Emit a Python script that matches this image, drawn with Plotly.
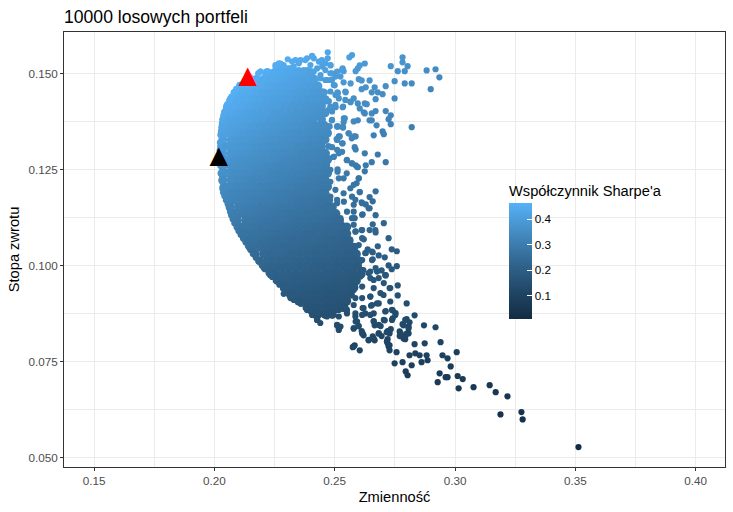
import plotly.graph_objects as go

TITLE = "10000 losowych portfeli"
X_TITLE = "Zmienność"
Y_TITLE = "Stopa zwrotu"
CB_TITLE = "Współczynnik Sharpe'a"
RISK_FREE = 0.05  # the colour is the chart's own Sharpe ratio: (return - RISK_FREE) / volatility

x_ticks = [0.15, 0.20, 0.25, 0.30, 0.35, 0.40]
y_ticks = [0.050, 0.075, 0.100, 0.125, 0.150]
cb_ticks = [0.1, 0.2, 0.3, 0.4]

# Optimal portfolios: (minimum variance, maximum Sharpe)
best_vol = [201.8, 213.9]
best_ret = [128.2, 149.2]
best_colors = ["black", "red"]

# Dense body of the cloud, row by row: return level and the volatilities read on that level
body_ret = [150.25, 148.5, 146.75, 145, 143.25, 141.5, 139.75, 138, 136.25, 134.5, 132.75, 131, 129.25, 127.5,
            125.75, 124, 122.25, 120.5, 118.75, 117, 115.25, 113.5, 111.75, 110, 108.25, 106.5, 104.75, 103,
            101.25, 99.5, 97.75, 96, 94.25, 92.5, 90.75, 89, 87.25]
body_vol = [
    [222, 225, 228, 231, 234, 237, 240],
    [214.5, 217.5, 220.5, 223.5, 226.5, 229.5, 232.5, 235.5, 238.5, 241.5],
    [211, 213, 216, 219, 222, 225, 228, 231, 234, 237, 240, 243],
    [208.7, 211.5, 214.5, 217.5, 220.5, 223.5, 226.5, 229.5, 232.5, 235.5, 238.5, 241.5, 244.5],
    [207, 210, 213, 216, 219, 222, 225, 228, 231, 234, 237, 240, 243, 246],
    [205.5, 208.5, 211.5, 214.5, 217.5, 220.5, 223.5, 226.5, 229.5, 232.5, 235.5, 238.5, 241.5, 244.5],
    [204.7, 207, 210, 213, 216, 219, 222, 225, 228, 231, 234, 237, 240, 243, 246],
    [204, 205.5, 208.5, 211.5, 214.5, 217.5, 220.5, 223.5, 226.5, 229.5, 232.5, 235.5, 238.5, 241, 244.5],
    [204, 207, 210, 213, 216, 219, 222, 225, 228, 231, 234, 237, 240, 241.5, 243, 246],
    [203.3, 205.5, 208.5, 211.5, 214.5, 217.5, 220.5, 223.5, 226.5, 229.5, 232.5, 235.5, 238.5, 241.5, 244.5, 247],
    [203.5, 207, 210, 213, 216, 219, 222, 225, 228, 231, 234, 237, 240, 242, 243, 246],
    [203, 205.5, 208.5, 211.5, 214.5, 217.5, 220.5, 223.5, 226.5, 229.5, 232.5, 235.5, 238.5, 241, 244.5],
    [203.5, 207, 210, 213, 216, 219, 222, 225, 228, 231, 234, 237, 240, 241.5, 243, 246],
    [203, 205.5, 208.5, 211.5, 214.5, 217.5, 220.5, 223.5, 226.5, 229.5, 232.5, 235.5, 238.5, 241.5, 244.5, 247],
    [203.5, 207, 210, 213, 216, 219, 222, 225, 228, 231, 234, 237, 240, 243, 246],
    [203.2, 205.5, 208.5, 211.5, 214.5, 217.5, 220.5, 223.5, 226.5, 229.5, 232.5, 235.5, 238.5, 241.5, 243, 244.5, 247],
    [203.5, 207, 210, 213, 216, 219, 222, 225, 228, 231, 234, 237, 240, 243, 244, 246],
    [204, 205.5, 208.5, 211.5, 214.5, 217.5, 220.5, 223.5, 226.5, 229.5, 232.5, 235.5, 238.5, 241.5, 244, 247],
    [204.6, 207, 210, 213, 216, 219, 222, 225, 228, 231, 234, 237, 240, 243, 245, 246],
    [205.7, 208.5, 211.5, 214.5, 217.5, 220.5, 223.5, 226.5, 229.5, 232.5, 235.5, 238.5, 241.5, 244.5, 246, 247.5],
    [206.6, 210, 213, 216, 219, 222, 225, 228, 231, 234, 237, 240, 243, 246, 247, 249],
    [207.5, 208.5, 211.5, 214.5, 217.5, 220.5, 223.5, 226.5, 229.5, 232.5, 235.5, 238.5, 241.5, 244.5, 247.5, 250.5],
    [209.5, 213, 216, 219, 222, 225, 228, 231, 234, 237, 240, 243, 246, 249, 251, 252],
    [210, 211.5, 214.5, 217.5, 220.5, 223.5, 226.5, 229.5, 232.5, 235.5, 238.5, 241.5, 244.5, 247.5, 250.5, 253, 255],
    [211.6, 213, 216, 219, 222, 225, 228, 231, 234, 237, 240, 243, 246, 249, 252, 254, 255],
    [213.4, 214.5, 217.5, 220.5, 223.5, 226.5, 229.5, 232.5, 235.5, 238.5, 241.5, 244.5, 247.5, 250.5, 253.5, 256],
    [215, 216, 219, 222, 225, 228, 231, 234, 237, 240, 243, 246, 249, 252, 255, 258],
    [217, 220.5, 223.5, 226.5, 229.5, 232.5, 235.5, 238.5, 241.5, 244.5, 247.5, 250.5, 253.5, 255, 256.5, 259],
    [218.8, 222, 225, 228, 231, 234, 237, 240, 243, 246, 249, 252, 255, 258, 260],
    [221, 223.5, 226.5, 229.5, 232.5, 235.5, 238.5, 241.5, 244.5, 247.5, 250.5, 253.5, 255, 256.5, 259.5],
    [223.5, 225, 228, 231, 234, 237, 240, 243, 246, 249, 252, 255, 258, 261],
    [226.5, 229.5, 232.5, 235.5, 238.5, 241.5, 244.5, 247.5, 250.5, 253.5, 256.5, 259],
    [229, 231, 234, 237, 240, 243, 246, 249, 252, 255, 258],
    [231.5, 232.5, 235.5, 238.5, 241.5, 244.5, 247.5, 250.5, 253.5, 256.5],
    [235, 237, 240, 243, 246, 249, 252, 255],
    [238.5, 241.5, 244.5, 247.5, 250.5, 253.5],
    [243, 246, 249],
]

# Left edge of the cloud (the efficient frontier)
edge_ret = [150, 149, 148, 147, 146, 145, 144, 143, 142, 141, 140, 139, 138, 137, 136, 135, 134, 132, 130, 128, 126,
            124, 122, 120, 119, 118, 117, 116, 115, 114, 113, 112, 111, 110, 109, 108, 107, 106, 105, 104, 103, 102,
            101, 100, 99, 98, 97, 96, 95, 94, 93, 92, 91, 90, 89, 88, 87, 86, 85]
edge_vol = [218.2, 214.9, 212.5, 210.4, 209.1, 208.0, 207.1, 206.2, 205.4, 204.8, 204.1, 203.7, 203.3, 203.1, 202.9,
            202.7, 202.5, 202.3, 202.2, 202.2, 202.4, 202.7, 203.0, 203.3, 203.6, 204.2, 204.8, 205.5, 206.0, 206.5,
            207.0, 207.6, 208.3, 209.2, 210.0, 210.9, 211.9, 213.0, 214.0, 215.0, 216.0, 217.2, 218.4, 219.7, 221.0,
            222.5, 224.0, 225.5, 227.0, 228.6, 230.0, 231.6, 233.8, 236.0, 238.2, 240.0, 241.5, 242.7, 244.0]

# Individually visible portfolios around the body
outer_vol = [
    247.1, 247.1, 244.7, 257.2, 256.1, 278.2, 278.2, 280.3, 273.3, 276.2, 279.1, 288.2, 291.9, 293.5, 289.9, 282.0,
    262.5, 260.4, 259.6, 258.7, 248.3, 253.3, 253.7, 274.9, 279.1, 282.0, 271.2, 264.5, 260.0, 261.2, 256.6, 253.7,
    250.0, 262.9, 261.2, 266.6, 265.4, 267.9, 269.9, 274.9, 267.0, 257.9, 254.6, 251.2, 245.9, 247.5, 256.6, 259.6,
    262.5, 263.3, 260.4, 253.3, 250.4, 248.8, 245.4, 271.2, 267.0, 265.4, 262.1, 262.5, 273.3, 272.4, 273.3, 267.4,
    265.4, 264.5, 259.6, 257.9, 254.2, 253.7, 248.8, 251.2, 253.3, 269.9, 270.4, 266.2, 255.8, 258.7, 257.1, 252.1,
    250.8, 253.3, 258.3, 258.7, 262.5, 267.9, 265.4, 271.2, 262.9, 255.0, 257.1, 258.7, 259.6, 262.5, 260.0, 255.0,
    251.2, 246.7, 251.7, 249.6, 247.9, 246.7, 247.5, 248.9, 243.0, 245.4, 247.9, 246.1, 245.4,
    241.3, 240.6, 238.5, 235.8, 233.7, 230.5, 227.5, 225.4, 223.3, 221.2, 219.1, 242.7, 244.1, 246.1, 248.9, 251.0,
    252.4, 246.8, 248.9, 244.1, 240.6, 237.1, 233.0, 230.2, 226.8, 250.3, 251.7, 250.3, 247.5,
    267.0, 260.4, 264.5, 265.8, 257.9, 259.1, 261.2, 262.9, 264.5, 267.0, 261.6, 258.3, 270.4, 265.8, 264.5, 267.0,
    261.2, 258.7, 262.1, 272.4, 267.9, 273.7, 275.8, 265.8, 263.7, 262.9, 268.3, 270.8, 265.8, 272.4, 273.7, 275.8,
    271.2, 267.0, 269.5, 276.2, 272.8, 276.2, 279.9, 283.2, 279.9, 274.1, 271.2, 275.3, 274.1, 270.8, 269.1, 266.2,
    266.6, 287.1, 291.9, 281.1, 278.6, 273.3, 271.6, 277.4, 280.7, 278.6, 268.3, 265.8, 261.6, 260.0, 257.9, 258.7,
    251.0, 252.4, 251.7, 261.9, 264.1, 259.3, 256.5, 266.2, 269.0, 270.3, 264.8, 267.6, 265.1, 261.6, 266.2, 262.7,
    258.6, 255.1, 251.7, 248.2, 246.8, 242.7, 242.0, 238.5, 235.8, 231.6, 228.8,
    278.2, 280.7, 272.0, 272.8, 269.5, 264.1, 266.6, 261.2, 262.0, 259.8, 277.0, 277.0, 280.0, 279.3, 272.0, 272.0,
    272.8, 272.8, 283.2, 287.4, 294.0, 258.3, 257.5, 260.4, 275.7, 281.1, 283.5, 285.3, 288.2, 288.6, 294.8, 296.9,
    300.7, 298.2, 286.1, 282.0, 278.2, 274.9, 279.5, 280.3, 293.6, 292.8, 296.1, 296.9, 301.1, 303.2, 301.5, 307.7,
    314.4, 316.9, 321.8, 318.9, 327.6, 328.1, 351.3,
    # transition band, upper part
    226.8, 228.8, 232.3, 235.1, 237.8, 240.6, 239.9, 243.4, 244.8, 246.1, 248.2, 241.3, 238.5, 235.1, 231.6, 228.1,
    225.4, 221.9, 219.2, 244.1, 248.2, 250.3, 246.1, 241.3, 237.1, 233.0, 228.8, 224.7, 248.2, 249.6, 243.4, 239.2,
    235.8, 245.4, 248.2, 246.1, 243.4, 242.0, 239.2, 248.2, 248.9, 247.5, 241.3, 239.9, 244.1, 242.0, 244.8, 248.9,
    251.3, 253.8, 251.3, 254.4, 254.4, 256.5, 253.5, 253.0,
    # transition band, middle part
    244.1, 247.5, 251.0, 253.5, 255.8, 257.9, 251.7, 251.0, 253.1, 245.4, 247.5, 251.0, 253.1, 249.6, 246.1, 243.4,
    241.3, 255.1, 257.2, 259.3, 246.8, 248.2, 251.2, 253.7, 251.7, 248.2, 246.1, 250.3, 253.7, 256.5, 257.2, 260.0,
    260.4, 258.6, 251.0, 248.2, 244.1, 245.4, 241.3, 243.4,
    251.0, 253.8, 257.9, 261.4, 264.1, 261.4, 257.9, 255.1, 252.4, 250.3, 257.2, 257.9, 253.1, 258.6, 261.4, 266.9,
    261.4, 260.0, 255.8, 252.4, 248.2, 262.7, 265.5, 261.4, 265.5, 260.0, 256.5, 252.4, 249.6, 246.8, 255.8, 261.4,
    264.8, 267.6, 271.1, 252.4, 249.6, 247.5,
    # transition band, lower part
    237.1, 234.4, 241.3, 245.4, 249.6, 253.1, 256.5, 260.7, 264.8, 268.3, 271.0, 270.4, 273.1, 266.2, 261.4, 257.9,
    253.7, 249.6, 245.4, 242.0, 237.8, 234.4, 264.8, 261.4, 258.6, 255.1, 251.7, 247.5, 244.0, 239.9, 236.4, 233.0,
    273.1, 268.3, 265.5, 262.0, 257.9, 254.4, 251.0, 248.2, 242.0, 244.7, 240.6, 242.7, 255.1, 251.7, 258.6, 259.3,
    261.4, 264.8, 266.2, 268.3, 271.0, 273.8, 275.2, 270.4, 273.8, 251.0, 251.7, 257.9, 261.4, 268.3, 272.4, 266.2,
    264.1, 271.7, 272.4, 257.9, 279.3, 280.7, 277.3, 279.3,
]
outer_ret = [
    155.5, 153.95, 153.5, 154.8, 154.2, 154.2, 152.9, 151.9, 151.9, 150.6, 150.6, 150.8, 151.1, 149.0, 145.9, 136.0,
    152.6, 152.1, 151.3, 150.6, 152.1, 151.3, 150.6, 148.0, 147.4, 147.4, 146.7, 148.2, 148.5, 148.2, 147.4, 147.7,
    146.9, 146.4, 145.9, 146.4, 145.1, 145.1, 144.6, 143.5, 143.3, 143.5, 145.1, 145.1, 145.1, 142.8, 142.5, 142.2,
    142.2, 142.0, 140.9, 141.2, 141.2, 140.4, 139.9, 140.2, 140.2, 139.6, 139.9, 139.6, 139.1, 138.1, 136.8, 136.5,
    137.8, 137.8, 137.8, 137.5, 138.3, 137.3, 137.8, 136.2, 136.0, 134.9, 134.2, 133.9, 134.4, 133.6, 133.1, 133.6,
    132.9, 131.8, 130.8, 130.2, 129.2, 128.9, 126.9, 126.9, 126.1, 127.4, 126.6, 126.1, 125.6, 124.5, 122.7, 124.0,
    125.0, 126.1, 129.2, 128.3, 127.9, 129.2, 131.0, 130.8, 130.8, 133.1, 136.2, 135.3, 137.0,
    153.95, 154.6, 153.95, 153.5, 153.5, 153.7, 152.6, 152.2, 150.0, 150.0, 150.5, 151.3, 153.1, 150.9, 150.0, 150.5,
    149.2, 148.3, 148.3, 148.75, 150.0, 150.9, 151.8, 151.3, 151.3, 144.4, 143.5, 141.8, 140.5,
    119.3, 119.1, 117.8, 116.7, 121.0, 121.4, 116.4, 115.9, 114.9, 113.1, 113.3, 112.3, 111.0, 110.7, 109.2, 108.6,
    109.2, 108.9, 106.8, 107.1, 105.0, 104.2, 103.7, 103.4, 104.2, 103.2, 102.6, 102.1, 101.6, 100.0, 99.0, 99.8,
    97.4, 99.3, 98.7, 94.8, 94.1, 92.2, 90.1, 87.0, 86.0, 88.3, 88.1, 87.6, 86.2, 85.7, 84.2, 85.5,
    84.4, 84.4, 83.9, 85.2, 84.4, 83.4, 82.6, 82.3, 82.3, 81.0, 82.3, 81.5, 82.3, 84.2, 83.6, 85.4,
    84.4, 84.1, 83.2, 98.8, 98.0, 96.2, 94.5, 96.2, 92.8, 92.3, 91.9, 90.1, 89.5, 88.9, 87.5, 87.5,
    87.5, 88.4, 88.4, 88.8, 86.7, 85.8, 88.0, 88.4, 90.1, 91.5, 92.6,
    84.7, 83.6, 82.9, 82.3, 81.6, 80.5, 80.5, 82.9, 81.8, 84.2, 82.8, 81.6, 82.3, 80.8, 80.8, 79.7,
    79.2, 77.9, 79.5, 79.7, 80.0, 79.2, 78.7, 77.9, 77.4, 76.6, 77.1, 76.6, 76.6, 75.3, 76.6, 75.8,
    77.4, 73.7, 74.8, 74.0, 74.8, 74.5, 72.4, 71.4, 71.9, 69.6, 70.9, 70.9, 71.2, 70.4, 68.0, 68.3,
    68.8, 67.0, 65.9, 61.2, 61.8, 59.9, 52.7,
    # transition band, upper part
    152.65, 152.2, 153.1, 152.65, 153.5, 154.4, 152.2, 153.1, 151.8, 152.65, 152.2, 150.5, 150.9, 150.9, 151.4, 150.9,
    151.8, 150.05, 150.5, 149.6, 150.05, 149.2, 148.3, 147.9, 148.7, 149.6, 149.6, 149.6, 148.3, 147.0, 146.6, 146.6,
    146.1, 145.3, 145.3, 142.7, 141.8, 144.0, 144.8, 141.4, 140.1, 142.7, 141.4, 139.6, 139.6, 138.8, 136.6, 137.9,
    136.2, 138.3, 144.8, 145.3, 143.1, 142.7, 141.4, 150.9,
    # transition band, middle part
    136.2, 136.2, 136.2, 135.9, 134.4, 133.6, 133.6, 132.7, 131.8, 133.1, 131.0, 130.1, 129.6, 128.3, 129.2, 127.9,
    130.1, 127.5, 126.6, 125.7, 126.2, 124.9, 124.4, 122.7, 122.7, 121.8, 120.1, 119.7, 118.8, 120.1, 117.9, 122.7,
    119.1, 117.1, 117.1, 117.9, 117.9, 123.6, 125.3, 122.3,
    116.2, 116.6, 115.8, 116.2, 114.9, 113.2, 114.0, 114.0, 112.3, 112.7, 112.3, 110.6, 110.6, 108.8, 109.2, 109.2,
    107.1, 105.3, 106.2, 108.4, 107.5, 103.2, 103.6, 101.4, 101.4, 100.1, 101.0, 100.6, 102.3, 100.6, 98.4, 98.8,
    98.4, 98.4, 97.5, 98.0, 98.4, 98.4,
    # transition band, lower part
    96.2, 97.1, 97.1, 96.7, 97.5, 96.7, 97.5, 97.1, 96.7, 96.7, 97.5, 95.4, 94.1, 94.1, 94.5, 93.6,
    94.1, 94.1, 94.1, 92.8, 92.8, 92.3, 91.9, 91.5, 91.5, 91.0, 91.0, 91.0, 91.0, 90.6, 90.6, 91.0,
    90.6, 90.1, 89.7, 88.9, 89.7, 89.3, 88.4, 88.4, 88.0, 88.0, 87.1, 85.8, 87.5, 86.7, 86.7, 85.4,
    87.1, 87.1, 85.4, 84.5, 88.0, 88.4, 87.1, 85.8, 85.8, 84.5, 83.6, 83.6, 82.3, 82.3, 82.8, 81.0,
    80.6, 80.2, 78.9, 78.9, 85.8, 84.1, 82.3, 81.5,
]

COLORSCALE = [[0, "#132B43"], [0.25, "#214868"], [0.5, "#326892"], [0.75, "#448CC3"], [1, "#56B1F7"]]
CMIN, CMAX = 0.0077, 0.4637
GRID = "#EBEBEB"
DARK = "#333333"
FONT = "Liberation Sans"


def sharpe(vols, rets):
    return [(r - RISK_FREE) / v for v, r in zip(vols, rets)]


def scaled(values):
    return [v / 1000 for v in values]


def cloud_trace(vols, rets, size):
    v, r = scaled(vols), scaled(rets)
    return go.Scatter(x=v, y=r, mode="markers", showlegend=False, hoverinfo="skip",
                      marker=dict(size=size, color=sharpe(v, r), coloraxis="coloraxis", line=dict(width=0)))


body_x, body_y = [], []
for level, vols in zip(body_ret, body_vol):
    body_x.extend(vols)
    body_y.extend([level] * len(vols))

fig = go.Figure()
fig.add_trace(cloud_trace(outer_vol, outer_ret, 6.2))
fig.add_trace(cloud_trace(body_x, body_y, 9))
fig.add_trace(cloud_trace(edge_vol, edge_ret, 6.2))
fig.add_trace(go.Scatter(x=scaled(best_vol), y=scaled(best_ret), mode="text", showlegend=False, hoverinfo="skip",
                         text=["▲", "▲"], textposition="middle center",
                         textfont=dict(family="DejaVu Sans", size=24, color=best_colors)))

axis_common = dict(showline=True, mirror=True, linecolor=DARK, linewidth=1, ticks="outside", ticklen=3, tickwidth=1,
                   tickcolor=DARK, showgrid=True, gridcolor=GRID, gridwidth=1, zeroline=False,
                   tickfont=dict(family=FONT, size=11.7, color="#4D4D4D"))
fig.update_layout(
    width=733, height=512, paper_bgcolor="white", plot_bgcolor="white",
    margin=dict(l=64, r=8, t=32, b=45),
    font=dict(family=FONT, color="black"),
    title=dict(text=TITLE, x=64 / 733, xref="container", xanchor="left", y=1 - 17 / 512, yref="container",
               yanchor="middle", font=dict(family=FONT, size=17.6, color="black")),
    xaxis=dict(axis_common, range=[0.1375, 0.4122], tickvals=x_ticks, tickformat=".2f",
               minor=dict(tickvals=[0.175, 0.225, 0.275, 0.325, 0.375], ticklen=0, showgrid=True, gridcolor=GRID, gridwidth=0.5),
               title=dict(text=X_TITLE, standoff=5, font=dict(family=FONT, size=14.67))),
    yaxis=dict(axis_common, range=[0.0475, 0.1608], tickvals=y_ticks, tickformat=".3f",
               minor=dict(tickvals=[0.0625, 0.0875, 0.1125, 0.1375], ticklen=0, showgrid=True, gridcolor=GRID, gridwidth=0.5),
               title=dict(text=Y_TITLE, standoff=5, font=dict(family=FONT, size=14.67))),
    coloraxis=dict(colorscale=COLORSCALE, cmin=CMIN, cmax=CMAX,
                   colorbar=dict(title=dict(text=CB_TITLE, side="top", font=dict(family=FONT, size=14.67)),
                                 thickness=23, thicknessmode="pixels", len=137, lenmode="pixels",
                                 x=(509 - 64) / 661, xanchor="left", xpad=0, y=(467 - 319) / 435, yanchor="bottom", ypad=0,
                                 outlinewidth=0, tickvals=cb_ticks, ticks="inside", tickcolor="white", ticklen=5,
                                 tickfont=dict(family=FONT, size=11.7, color="black"), bgcolor="rgba(0,0,0,0)")),
)
fig.write_html("out.html", config={"displayModeBar": False}, post_script="document.body.style.margin='0';")
